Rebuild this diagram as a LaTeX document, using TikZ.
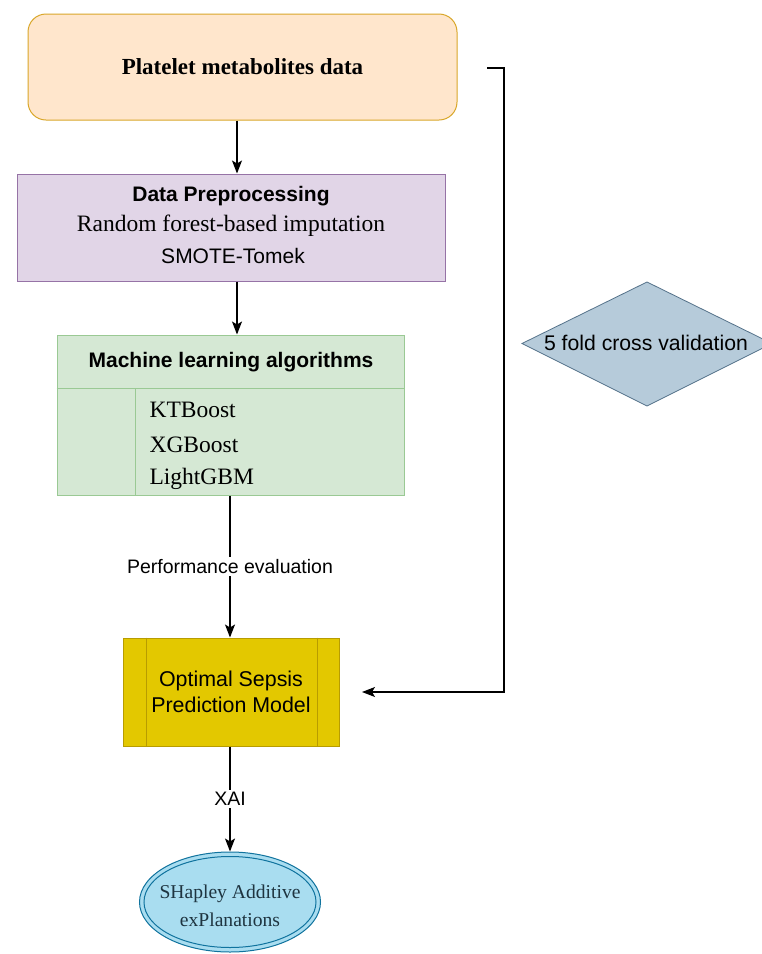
\documentclass[tikz,border=0pt]{standalone}
\usepackage{fontspec}
\setmainfont{Liberation Serif}
\setsansfont{Liberation Sans}
\usetikzlibrary{arrows.meta,shapes.geometric,calc}

\definecolor{dataFill}{HTML}{FFE6CC}
\definecolor{dataLine}{HTML}{D9A72A}
\definecolor{prepFill}{HTML}{E1D5E7}
\definecolor{prepLine}{HTML}{9673A6}
\definecolor{mlFill}{HTML}{D5E8D4}
\definecolor{mlLine}{HTML}{9AC994}
\definecolor{modelFill}{HTML}{E3C800}
\definecolor{modelLine}{HTML}{B89C00}
\definecolor{shapFill}{HTML}{A9DDF0}
\definecolor{shapLine}{HTML}{10739E}
\definecolor{shapText}{HTML}{1E3440}
\definecolor{cvFill}{HTML}{B6CBDA}
\definecolor{cvLine}{HTML}{55728A}

\tikzset{
  flow/.style={draw=black, line width=1.1pt, -{Stealth[length=13pt,width=10pt,inset=3pt]}},
  edgelabel/.style={fill=white, inner sep=2pt, font=\sffamily\fontsize{19.5}{22}\selectfont},
}

\begin{document}
\begin{tikzpicture}[x=1pt, y=-1pt]
\useasboundingbox (0,0) rectangle (762,954);
\fill[white] (0,0) rectangle (762,954);

% input data
\node[draw=dataLine, fill=dataFill, line width=1pt, rounded corners=18pt,
      minimum width=429pt, minimum height=106pt, inner sep=0pt,
      font=\rmfamily\bfseries\fontsize{23}{28}\selectfont]
  (data) at (242.5,67) {Platelet metabolites data};

% preprocessing
\node[draw=prepLine, fill=prepFill, line width=1pt,
      minimum width=428pt, minimum height=107pt, inner sep=0pt]
  (prep) at (231,227.5) {};
\node[font=\sffamily\bfseries\fontsize{21}{26}\selectfont] (prepT) at (231,196) {Data Preprocessing};
\node[font=\rmfamily\fontsize{23.5}{28}\selectfont] (prepA) at (231,226) {Random forest-based imputation};
\node[font=\sffamily\fontsize{21}{26}\selectfont] (prepB) at (233,256) {SMOTE-Tomek};

% machine learning block
\node[draw=mlLine, fill=mlFill, line width=1pt,
      minimum width=347pt, minimum height=160pt, inner sep=0pt]
  (ml) at (230.5,415) {};
\draw[mlLine, line width=1pt] (ml.west |- 0,388) -- (ml.east |- 0,388);
\draw[mlLine, line width=1pt] (135,388) -- (135,0 |- ml.south);
\node[font=\sffamily\bfseries\fontsize{21}{26}\selectfont] (mlT) at (231,362) {Machine learning algorithms};
\node[anchor=west, font=\rmfamily\fontsize{23.5}{28}\selectfont] (alg1) at (146,410) {KTBoost};
\node[anchor=west, font=\rmfamily\fontsize{23.5}{28}\selectfont] (alg2) at (146,445) {XGBoost};
\node[anchor=west, font=\rmfamily\fontsize{23.5}{28}\selectfont] (alg3) at (146,479) {LightGBM};

% optimal model (process shape)
\node[draw=modelLine, fill=modelFill, line width=1pt,
      minimum width=216pt, minimum height=108pt, inner sep=0pt,
      align=center, font=\sffamily\fontsize{21.4}{26}\selectfont]
  (model) at (231,692) {Optimal Sepsis\\Prediction Model};
\draw[modelLine, line width=1pt] (146,0 |- model.north) -- (146,0 |- model.south);
\draw[modelLine, line width=1pt] (317,0 |- model.north) -- (317,0 |- model.south);

% SHAP explanation (double-bordered ellipse)
\node[ellipse, draw=shapLine, fill=shapFill, line width=1pt,
      minimum width=181pt, minimum height=100pt, inner sep=0pt]
  (shap) at (230,902) {};
\draw[shapLine, line width=1pt] (shap.center) ellipse (86pt and 45.5pt);
\node[align=center, text=shapText, font=\rmfamily\fontsize{19.6}{28}\selectfont] (shapT) at (230,906)
  {SHapley Additive\\exPlanations};

% cross validation diamond
\path[draw=cvLine, fill=cvFill, line width=0.8pt]
  (522,343.5) -- (647,282) -- (772,343.5) -- (647,406) -- cycle;
\node[font=\sffamily\fontsize{21.2}{26}\selectfont] (cv) at (646,343) {5 fold cross validation};

% connectors
\coordinate (ax) at (237,0);
\coordinate (bx) at (230,0);
\draw[flow] (data.south -| ax) -- (prep.north -| ax);
\draw[flow] (prep.south -| ax) -- (ml.north -| ax);
\draw[flow] (ml.south -| bx) -- node[edgelabel] {Performance evaluation} (model.north -| bx);
\draw[flow] (model.south -| bx) -- node[edgelabel, pos=0.5] {XAI} (shap.north -| bx);

\coordinate (fbstart) at (487,68);
\coordinate (fbtip) at (362,692);
\draw[flow] (fbstart) -- (504,68) -- (504,692) -- (fbtip);
\end{tikzpicture}
\end{document}
